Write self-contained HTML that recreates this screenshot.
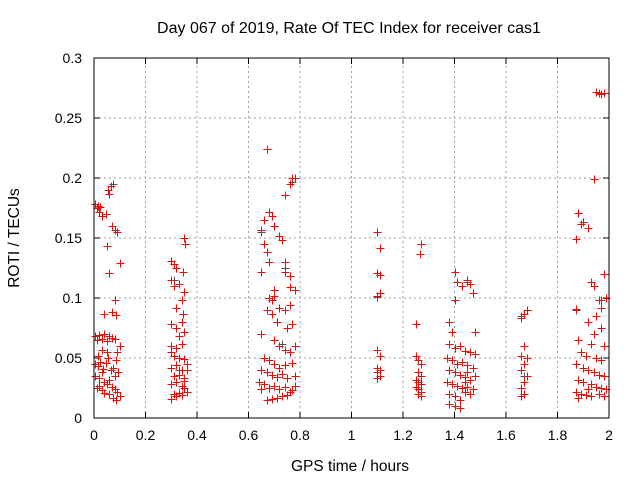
<!DOCTYPE html>
<html><head><meta charset="utf-8"><style>
body{margin:0;background:#fff}
svg{display:block;font-family:"Liberation Sans",sans-serif}
</style></head><body>
<svg id="chart" width="640" height="480" xmlns="http://www.w3.org/2000/svg">
<text x="349" y="33" font-size="16" text-anchor="middle">Day 067 of 2019, Rate Of TEC Index for receiver cas1</text>
<text x="350" y="471" font-size="15.5" text-anchor="middle">GPS time / hours</text>
<text x="19" y="238" font-size="15.5" text-anchor="middle" transform="rotate(-90 19 238)">ROTI / TECUs</text>
<g id="grid"></g>
<g id="ticks"></g>
<g id="pts" shape-rendering="crispEdges"></g>
<rect x="94" y="58" width="515" height="360" fill="none" stroke="#000" stroke-width="1"/>
</svg>
<script>
const xTicks=[0,0.2,0.4,0.6,0.8,1,1.2,1.4,1.6,1.8,2];
const xTickLabels=["0","0.2","0.4","0.6","0.8","1","1.2","1.4","1.6","1.8","2"];
const yTicks=[0,0.05,0.1,0.15,0.2,0.25,0.3];
const yTickLabels=["0","0.05","0.1","0.15","0.2","0.25","0.3"];
const redTimes=[0.005,0.01,0.015,0.02,0.025,0.03,0.045,0.055,0.06,0.065,0.07,0.08,0.09,0.05,0.1,0.06,0.07,0.085,0.08,0.04,
0.005,0.01,0.02,0.03,0.04,0.05,0.06,0.07,0.08,0.09,0.1,0.005,0.015,0.025,0.035,0.045,0.055,0.065,0.075,0.085,0.095,0.005,0.02,0.03,0.04,0.05,0.06,0.07,0.08,0.09,0.1,0.01,0.02,0.03,0.04,0.06,0.075,0.085,0.05,0.03,0.015,0.08,
0.3,0.31,0.32,0.35,0.355,0.345,0.3,0.31,0.33,0.35,0.32,0.34,0.345,0.3,0.32,0.34,0.33,0.35,0.3,0.32,0.34,0.3,0.31,0.33,0.35,0.36,0.3,0.32,0.34,0.31,0.33,0.35,0.3,0.32,0.34,0.35,0.31,0.32,0.33,0.34,0.36,0.3,0.35,0.36,
0.67,0.66,0.68,0.69,0.7,0.65,0.74,0.76,0.77,0.78,0.72,0.73,0.66,0.67,0.68,0.74,0.74,0.65,0.76,0.76,0.78,0.7,0.68,0.69,0.7,0.72,0.74,0.76,0.67,0.69,0.71,0.75,0.77,0.65,0.7,0.72,0.74,0.76,0.78,0.66,0.68,0.7,0.72,0.74,0.77,0.65,0.67,0.69,0.71,0.73,0.75,0.78,0.66,0.68,0.7,0.72,0.74,0.76,0.78,0.67,0.69,0.71,0.73,0.75,0.77,0.65,0.64,
1.1,1.11,1.1,1.11,1.1,1.11,1.1,1.11,1.1,1.11,1.1,1.11,1.1,
1.27,1.265,1.25,1.25,1.26,1.27,1.26,1.27,1.25,1.26,1.27,1.25,1.26,1.27,1.26,1.27,
1.4,1.41,1.43,1.45,1.46,1.47,1.4,1.38,1.39,1.48,1.38,1.4,1.42,1.44,1.46,1.48,1.37,1.39,1.41,1.43,1.45,1.47,1.38,1.4,1.42,1.44,1.46,1.48,1.37,1.39,1.41,1.43,1.45,1.47,1.38,1.4,1.42,1.44,1.46,1.38,1.4,1.42,1.44,1.45,
1.67,1.68,1.66,1.67,1.66,1.68,1.67,1.66,1.68,1.67,1.66,1.67,1.66,
1.95,1.96,1.97,1.98,1.94,1.88,1.89,1.9,1.92,1.87,1.93,1.94,1.98,1.99,1.96,1.97,1.87,1.95,1.92,1.97,1.94,1.88,1.93,1.98,1.89,1.91,1.95,1.97,1.87,1.9,1.92,1.94,1.96,1.98,1.88,1.9,1.93,1.95,1.97,1.99,1.87,1.89,1.91,1.93,1.96,1.98,1.88,1.92];
const redRoti=[0.178,0.175,0.177,0.172,0.176,0.168,0.170,0.190,0.187,0.193,0.160,0.157,0.155,0.143,0.129,0.121,0.088,0.086,0.098,0.087,
0.068,0.065,0.069,0.066,0.070,0.064,0.068,0.067,0.066,0.055,0.060,0.045,0.043,0.047,0.041,0.046,0.050,0.040,0.042,0.048,0.038,0.035,0.033,0.038,0.030,0.028,0.032,0.026,0.024,0.022,0.018,0.025,0.027,0.023,0.021,0.020,0.017,0.015,0.055,0.057,0.052,0.035,
0.131,0.128,0.125,0.150,0.145,0.122,0.115,0.110,0.112,0.105,0.092,0.098,0.087,0.078,0.075,0.080,0.068,0.072,0.060,0.058,0.062,0.055,0.052,0.050,0.049,0.045,0.042,0.044,0.040,0.035,0.036,0.033,0.028,0.030,0.027,0.025,0.020,0.018,0.021,0.019,0.022,0.016,0.031,0.040,
0.224,0.165,0.172,0.168,0.160,0.157,0.186,0.195,0.200,0.200,0.152,0.148,0.145,0.138,0.130,0.130,0.122,0.122,0.118,0.109,0.107,0.107,0.100,0.098,0.102,0.092,0.090,0.094,0.090,0.087,0.080,0.075,0.078,0.070,0.065,0.060,0.057,0.055,0.060,0.050,0.048,0.045,0.042,0.044,0.046,0.040,0.038,0.036,0.034,0.037,0.033,0.035,0.028,0.025,0.027,0.024,0.026,0.022,0.027,0.015,0.016,0.017,0.018,0.019,0.023,0.024,0.030,
0.155,0.142,0.121,0.119,0.102,0.104,0.057,0.052,0.042,0.040,0.038,0.035,0.033,
0.145,0.137,0.078,0.052,0.048,0.045,0.038,0.035,0.032,0.030,0.028,0.026,0.024,0.022,0.020,0.018,
0.122,0.113,0.110,0.115,0.112,0.104,0.098,0.080,0.072,0.072,0.062,0.058,0.060,0.056,0.055,0.053,0.050,0.048,0.045,0.047,0.044,0.042,0.040,0.038,0.036,0.034,0.032,0.035,0.030,0.028,0.027,0.025,0.026,0.024,0.020,0.018,0.015,0.022,0.020,0.012,0.010,0.008,0.030,0.038,
0.087,0.090,0.083,0.060,0.052,0.050,0.045,0.040,0.035,0.030,0.025,0.020,0.018,
0.272,0.271,0.270,0.271,0.199,0.171,0.162,0.163,0.158,0.149,0.113,0.110,0.120,0.100,0.098,0.092,0.091,0.085,0.080,0.075,0.070,0.065,0.062,0.060,0.055,0.052,0.050,0.048,0.045,0.042,0.040,0.038,0.036,0.035,0.032,0.030,0.028,0.026,0.025,0.024,0.022,0.020,0.019,0.018,0.020,0.018,0.017,0.024];
const grayTimes=[0.075,0.08,0.77,0.65,0.74,0.73,1.1,1.11,1.45,1.66,1.67,1.87,1.97,0.31,0.33];
const grayRoti=[0.195,0.098,0.197,0.155,0.125,0.062,0.101,0.040,0.113,0.085,0.035,0.090,0.098,0.115,0.040];

const NS="http://www.w3.org/2000/svg";
const X0=94,X1=609,Y0=418,Y1=58;
const xs=v=>X0+(v-0)/(2-0)*(X1-X0);
const ys=v=>Y0-(v-0)/(0.3-0)*(Y0-Y1);
function mk(tag,attrs,parent){const e=document.createElementNS(NS,tag);for(const k in attrs)e.setAttribute(k,attrs[k]);parent.appendChild(e);return e;}
const grid=document.getElementById('grid'),ticks=document.getElementById('ticks'),pts=document.getElementById('pts');
xTicks.forEach((t,i)=>{const x=xs(t);
 if(i>0&&i<xTicks.length-1){const g=mk('line',{x1:x,y1:Y0,x2:x,y2:Y1,stroke:'#a0a0a0','stroke-dasharray':'2,3'},grid);
 
 }
 mk('line',{x1:x,y1:Y0,x2:x,y2:Y0-6,stroke:'#000'},ticks);
 mk('line',{x1:x,y1:Y1,x2:x,y2:Y1+6,stroke:'#000'},ticks);
 const l=mk('text',{x:x,y:Y0+22,'font-size':14,'text-anchor':'middle'},ticks);l.textContent=xTickLabels[i];
 
 
});
yTicks.forEach((t,i)=>{const y=ys(t);
 if(i>0&&i<yTicks.length-1){const g=mk('line',{x1:X0,y1:y,x2:X1,y2:y,stroke:'#a0a0a0','stroke-dasharray':'2,3'},grid);
 
 }
 mk('line',{x1:X0,y1:y,x2:X0+6,y2:y,stroke:'#000'},ticks);
 mk('line',{x1:X1,y1:y,x2:X1-6,y2:y,stroke:'#000'},ticks);
 const l=mk('text',{x:82,y:y+5,'font-size':14,'text-anchor':'end'},ticks);l.textContent=yTickLabels[i];
 
 
});
function cross(t,v,col,name){const x=Math.round(xs(t))+0.5,y=Math.round(ys(v))+0.5;
 const p=mk('path',{d:`M${x-4} ${y}H${x+4}M${x} ${y-4}V${y+4}`,stroke:col,'stroke-width':1,fill:'none'},pts);
 
 }
grayTimes.forEach((t,i)=>cross(t,grayRoti[i],'#505050','roti-point-dark'));
redTimes.forEach((t,i)=>cross(t,redRoti[i],'#ff0000','roti-point'));
</script>
</body></html>
